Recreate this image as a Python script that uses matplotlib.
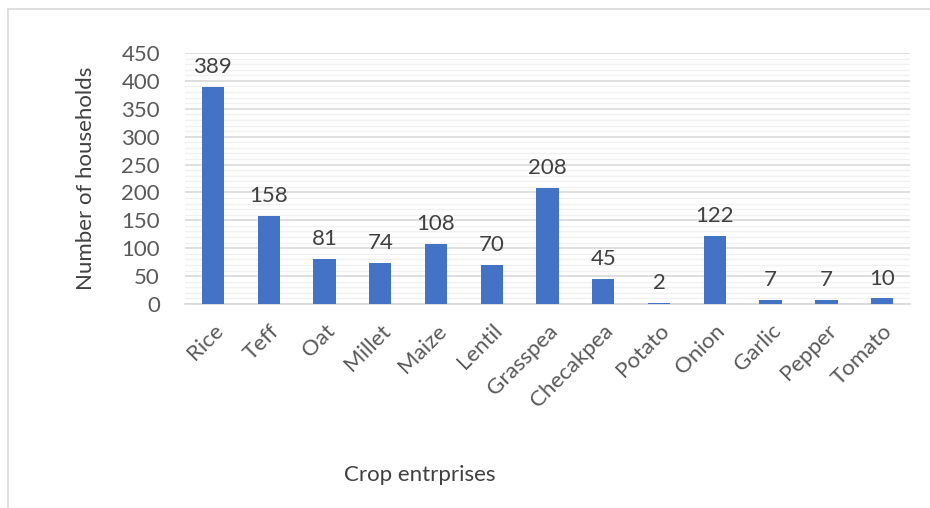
import matplotlib.pyplot as plt
from matplotlib.lines import Line2D
from matplotlib.ticker import MultipleLocator

crops = ['Rice', 'Teff', 'Oat', 'Millet', 'Maize', 'Lentil', 'Grasspea',
         'Checakpea', 'Potato', 'Onion', 'Garlic', 'Pepper', 'Tomato']
households = [389, 158, 81, 74, 108, 70, 208, 45, 2, 122, 7, 7, 10]

plt.rcParams['font.family'] = ['Lato', 'DejaVu Sans']

fig = plt.figure(figsize=(9.3, 5.08), dpi=100)
ax = fig.add_axes([185/930, 204/508, 725/930, 251/508])

x = list(range(len(crops)))
ax.bar(x, households, width=0.4, color='#4472C4', zorder=3)
for xi, v in zip(x, households):
    ax.annotate(str(v), (xi, v), xytext=(0, 7), textcoords='offset points',
                ha='center', va='bottom', fontsize=16, color='#404040')

ax.set_xlim(-0.5, len(crops) - 0.5)
ax.set_ylim(0, 450)
ax.yaxis.set_major_locator(MultipleLocator(50))
ax.yaxis.set_minor_locator(MultipleLocator(10))
ax.grid(axis='y', which='major', color='#d9d9d9', lw=1.2, zorder=0)
ax.grid(axis='y', which='minor', color='#f0f0f0', lw=1.0, zorder=0)
for s in ['top', 'right', 'left']:
    ax.spines[s].set_visible(False)
ax.spines['bottom'].set_color('#d9d9d9')
ax.spines['bottom'].set_linewidth(1.2)
ax.tick_params(axis='both', which='both', length=0, labelsize=16,
               labelcolor='#595959')
ax.tick_params(axis='y', pad=18)
ax.tick_params(axis='x', pad=12)
ax.set_xticks(x)
ax.set_xticklabels(crops, rotation=45, ha='right', rotation_mode='anchor')

ax.set_ylabel('Number of households', fontsize=16, color='#404040', labelpad=18)
fig.text(420/930, 1 - 475/508, 'Crop entrprises', ha='center', va='center',
         fontsize=16, color='#404040')

# chart border (partly cropped in the reference)
fig.add_artist(Line2D([8/930, 8/930], [0, 1 - 9/508], color='#d9d9d9', lw=1.2))
fig.add_artist(Line2D([8/930, 1], [1 - 9/508, 1 - 9/508], color='#d9d9d9', lw=1.2))

fig.savefig('out.png', dpi=100, facecolor='white')
